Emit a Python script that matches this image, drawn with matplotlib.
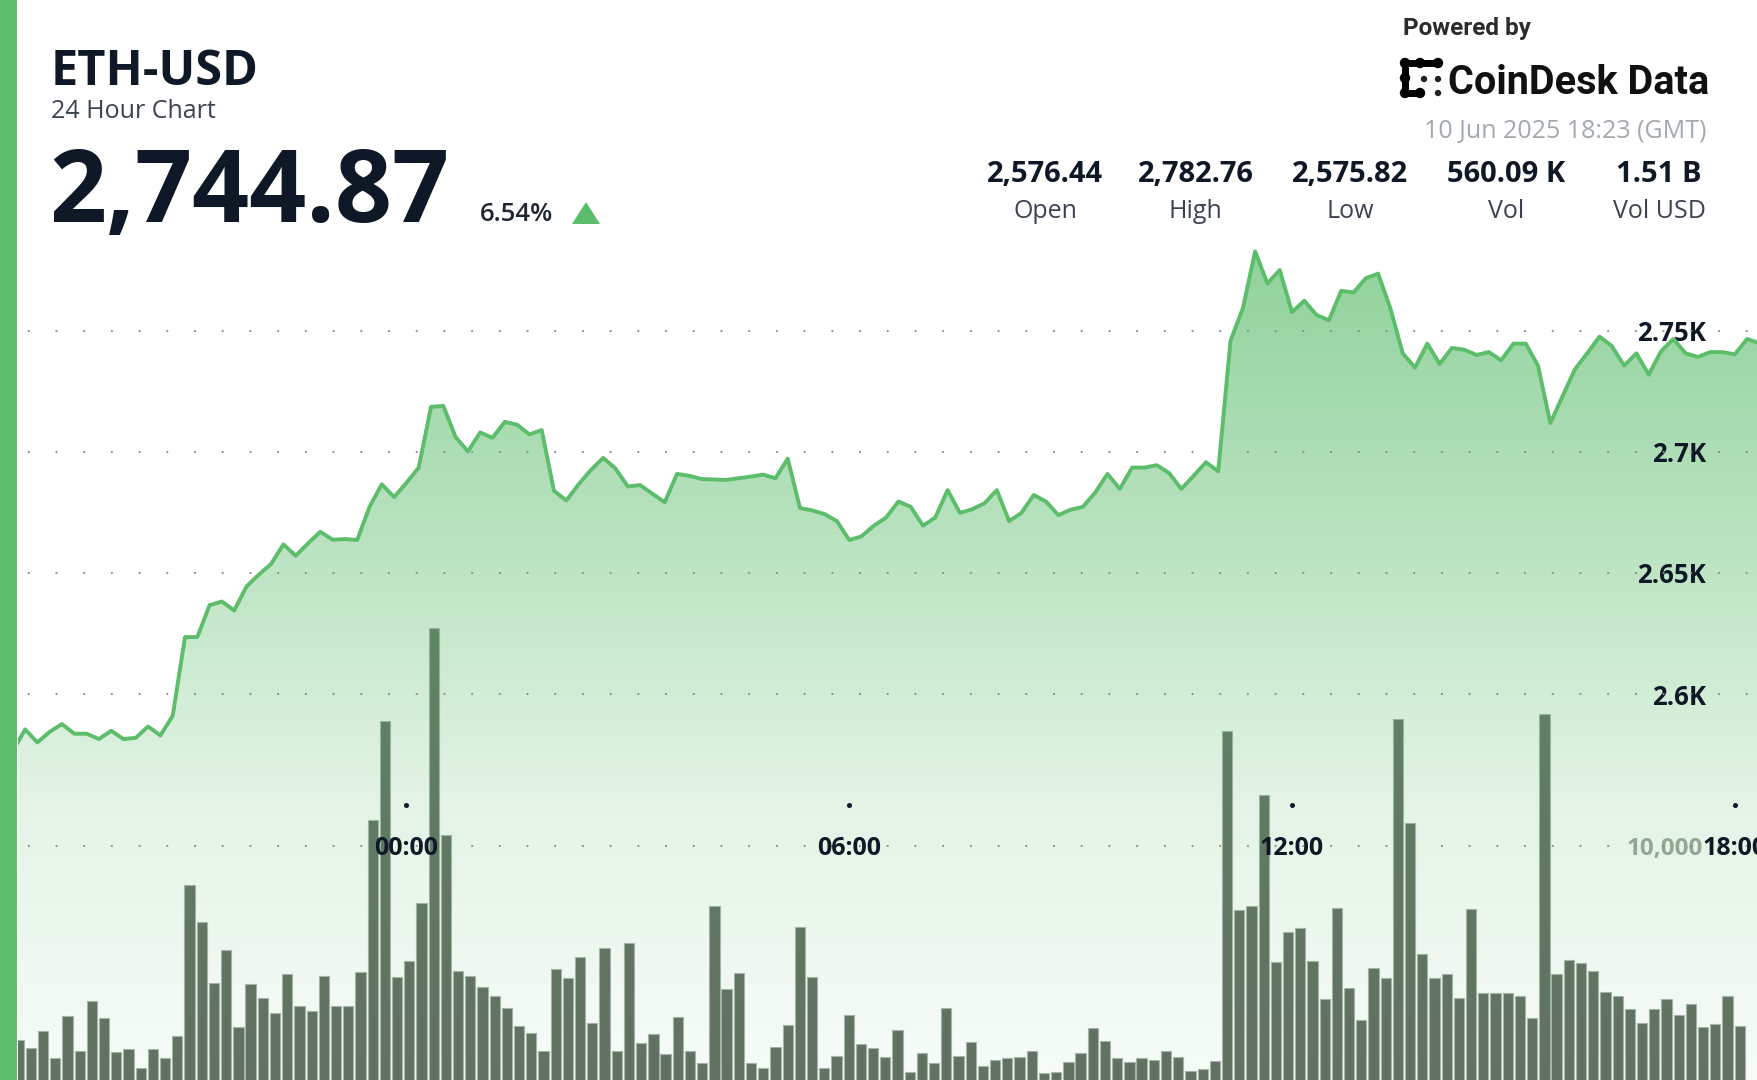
import numpy as np
import matplotlib
matplotlib.use("Agg")
import matplotlib.pyplot as plt
from matplotlib.patches import Rectangle, Polygon, Circle

plt.rcParams['lines.scale_dashes'] = False

# ---- data ----
# 10-min closes, first point 18:40 (hours relative to 10 Jun 00:00)
price = [2576.4, 2585.4, 2580.0, 2584.4, 2587.6, 2583.6, 2583.6, 2581.4, 2584.8, 2581.4,
         2581.9, 2586.6, 2582.9, 2591.0, 2623.5, 2623.5, 2636.7, 2638.2, 2634.5, 2644.4,
         2649.3, 2653.7, 2661.8, 2657.1, 2662.2, 2667.0, 2663.7, 2664.0, 2663.6, 2677.3,
         2686.6, 2681.3, 2687.2, 2693.5, 2718.6, 2719.0, 2706.1, 2700.2, 2708.0, 2705.8,
         2712.4, 2711.2, 2707.2, 2709.0, 2683.9, 2679.9, 2686.6, 2692.5, 2697.5, 2693.1,
         2685.7, 2686.3, 2682.7, 2679.2, 2690.9, 2690.1, 2688.8, 2688.6, 2688.4, 2689.1,
         2689.8, 2690.6, 2689.1, 2697.2, 2676.8, 2675.8, 2674.3, 2671.4, 2663.6, 2665.1,
         2669.5, 2672.9, 2679.5, 2677.3, 2669.5, 2672.9, 2684.2, 2674.8, 2676.3, 2678.8,
         2684.2, 2671.4, 2674.8, 2682.2, 2679.5, 2673.9, 2676.1, 2677.3, 2683.2, 2690.9,
         2684.7, 2693.5, 2693.5, 2694.5, 2691.3, 2684.7, 2690.1, 2695.7, 2692.0, 2745.9,
         2759.2, 2782.8, 2769.5, 2775.1, 2757.7, 2762.4, 2756.5, 2754.4, 2766.5, 2765.8,
         2771.7, 2773.6, 2759.2, 2740.7, 2734.8, 2744.7, 2736.3, 2742.9, 2742.2, 2740.0,
         2741.2, 2737.8, 2744.7, 2744.7, 2735.6, 2711.9, 2723.0, 2734.1, 2740.7, 2747.6,
         2743.7, 2735.6, 2740.7, 2731.9, 2741.5, 2746.6, 2740.7, 2739.2, 2741.2, 2741.2,
         2740.3, 2746.6, 2744.9]
price_start = -5 - 1 / 3   # 18:40 previous day

volume = [1707, 1379, 2104, 952, 2744, 1251, 3372, 2633, 1182, 1310,
          499, 1336, 952, 1891, 8323, 6756, 4127, 5548, 2262, 4084,
          3487, 2847, 4524, 3171, 2932, 4451, 3171, 3171, 4609, 11097,
          15322, 4396, 5092, 7542, 19291, 10444, 4652, 4451, 3969, 3598,
          3060, 2318, 1993, 1251, 4737, 4366, 5237, 2446, 5647, 1251,
          5834, 1566, 1950, 1097, 2676, 1251, 713, 7426, 3897, 4580,
          713, 525, 1396, 2347, 6543, 4409, 512, 1037, 2774, 1536,
          1379, 994, 2134, 329, 1140, 713, 3060, 1024, 1609, 610,
          854, 926, 994, 1251, 286, 354, 755, 1140, 2207, 1677,
          926, 755, 952, 854, 1251, 994, 397, 469, 824, 14895,
          7256, 7439, 12164, 5049, 6304, 6474, 5079, 3457, 7354, 3914,
          2561, 4767, 4366, 15407, 10956, 5365, 4366, 4524, 3487, 7285,
          3700, 3700, 3700, 3585, 2659, 15621, 4524, 5109, 5006, 4652,
          3743, 3598, 3043, 2420, 3017, 3457, 2761, 3231, 2275, 2390,
          3585, 2318]

price_levels = [2600, 2650, 2700, 2750]
price_labels = ["2.6K", "2.65K", "2.7K", "2.75K"]
hour_ticks = [0, 6, 12, 18]
hour_labels = ["00:00", "06:00", "12:00", "18:00"]

stat_values = ["2,576.44", "2,782.76", "2,575.82", "560.09 K", "1.51 B"]
stat_names = ["Open", "High", "Low", "Vol", "Vol USD"]

GREEN = "#5cbd6b"
NAVY = "#0f1826"
FONT = "Open Sans"
PX = 1 / 1.389   # points per pixel at dpi 100

W, H = 1758, 1080
fig = plt.figure(figsize=(W / 100, H / 100), dpi=100, facecolor="white")

dots = (12.2, (0.01, 19.94))

# ---- volume (below) ----
vax = fig.add_axes([18 / W, 0, 1740 / W, 1])
vax.set_xlim(-0.057, 142.5)
vax.set_ylim(0, 46095)
vax.bar(np.arange(len(volume)), volume, width=0.84, color="#626d62",
        edgecolor="#a9b5ab", linewidth=0.8, zorder=3)
vax.axhline(10000, color="#8c8c8c", lw=1.6, linestyle=dots,
            dash_capstyle="round", zorder=2)
for s in vax.spines.values():
    s.set_visible(False)
vax.set_xticks([])
vax.yaxis.tick_right()
vax.set_yticks([10000], ["10,000"])
vax.tick_params(axis="y", length=0, pad=-(W - 1703) * PX,
                labelcolor="#9ca59c", labelsize=17.5)
for lab in vax.get_yticklabels():
    lab.set_ha("right")
    lab.set_fontfamily(FONT)
    lab.set_fontweight("bold")
vax.patch.set_alpha(0)

# ---- price (above) ----
ax = fig.add_axes([18 / W, 0, 1740 / W, 1])
ax.patch.set_alpha(0)
t0, t1 = -5.263, 18.314
y0, y1 = 2440.6, 2886.6
ax.set_xlim(t0, t1)
ax.set_ylim(y0, y1)
t = price_start + np.arange(len(price)) / 6.0

# vertical gradient under the line
rows = 400
py = np.linspace(0, H, rows)
alpha = np.interp(py, [0, 250, 570, 800, 1080], [0.7, 0.68, 0.40, 0.17, 0.05])
grad = np.zeros((rows, 2, 4))
grad[..., 0] = 0.36
grad[..., 1] = 0.74
grad[..., 2] = 0.42
grad[..., 3] = alpha[:, None]
poly = ax.fill_between(t, price, y0, color="none", lw=0)
im = ax.imshow(grad, extent=(t0, t1, y0, y1), aspect="auto",
               origin="upper", zorder=1, interpolation="bilinear")
im.set_clip_path(poly.get_paths()[0], transform=ax.transData)

for lv in price_levels:
    ax.axhline(lv, color="#8c8c8c", lw=1.6, linestyle=dots,
               dash_capstyle="round", zorder=2)
ax.plot(t, price, color=GREEN, lw=2.8, solid_joinstyle="round", zorder=4)

for s in ax.spines.values():
    s.set_visible(False)
ax.yaxis.tick_right()
ax.set_yticks(price_levels, price_labels)
ax.tick_params(axis="y", length=0, pad=-(W - 1706) * PX,
               labelcolor=NAVY, labelsize=18.5)
for lab in ax.get_yticklabels():
    lab.set_ha("right")
    lab.set_fontfamily(FONT)
    lab.set_fontweight("bold")
ax.set_xticks(hour_ticks, hour_labels)
ax.tick_params(axis="x", length=0, pad=-(H - 848) * PX,
               labelcolor=NAVY, labelsize=18)
for lab in ax.get_xticklabels():
    lab.set_va("center")
    lab.set_fontfamily(FONT)
    lab.set_fontweight("bold")
# small tick dots
ax.plot(hour_ticks, [1 - 805 / H] * 4, "o", ms=2.6, color=NAVY,
        transform=ax.get_xaxis_transform(), zorder=5, clip_on=False)

# ---- header overlay in pixel coordinates ----
hd = fig.add_axes([0, 0, 1, 1], zorder=10)
hd.set_xlim(0, W)
hd.set_ylim(H, 0)
hd.axis("off")
hd.add_patch(Rectangle((0, 0), 17, H, color="#5fbd6e", lw=0))

hd.text(51, 85, "ETH-USD", fontfamily=FONT, fontweight="bold", fontsize=35,
        color=NAVY, va="baseline")
hd.text(51, 118, "24 Hour Chart", fontfamily=FONT, fontsize=18,
        color="#3b4350", va="baseline")
hd.text(49, 222, "2,744.87", fontfamily=FONT, fontweight="bold", fontsize=72,
        color=NAVY, va="baseline")
hd.text(480, 221, "6.54%", fontfamily=FONT, fontweight="semibold", fontsize=18.5,
        color="#1f2733", va="baseline")
hd.add_patch(Polygon([(572, 224), (600, 224), (586, 202)], closed=True,
                     color=GREEN, lw=0))

hd.text(1403, 35, "Powered by", fontfamily="Roboto", fontweight="bold",
        fontsize=17.5, color="#2b2b2b", va="baseline")
# CoinDesk Data mark
for (xa, ya), (xb, yb) in [((1405, 63), (1438, 63)), ((1405, 63), (1405, 93)),
                           ((1405, 93), (1420, 93))]:
    hd.plot([xa, xb], [ya, yb], color="black", lw=5, solid_capstyle="round")
for cx, cy in [(1405, 63), (1420, 63), (1438, 63), (1405, 78), (1405, 93), (1420, 93)]:
    hd.add_patch(Circle((cx, cy), 5.2, color="black", lw=0))
for cx, cy in [(1424, 79), (1438, 79), (1438, 93)]:
    hd.add_patch(Circle((cx, cy), 3.2, color="#222222", lw=0))
hd.text(1448, 94, "CoinDesk Data", fontfamily="Roboto", fontweight="bold",
        fontsize=28.5, color="#111111", va="baseline")
hd.text(1707, 138, "10 Jun 2025 18:23 (GMT)", fontfamily=FONT, fontsize=18,
        color="#a3a9b0", va="baseline", ha="right")

stat_x = [1045, 1195.5, 1350, 1506.5, 1659]
for x, v, n in zip(stat_x, stat_values, stat_names):
    hd.text(x, 182, v, fontfamily=FONT, fontweight="bold", fontsize=21,
            color=NAVY, va="baseline", ha="center")
    hd.text(x, 218, n, fontfamily=FONT, fontsize=18, color="#3b4350",
            va="baseline", ha="center")

fig.savefig("out.png", dpi=100, facecolor="white")
